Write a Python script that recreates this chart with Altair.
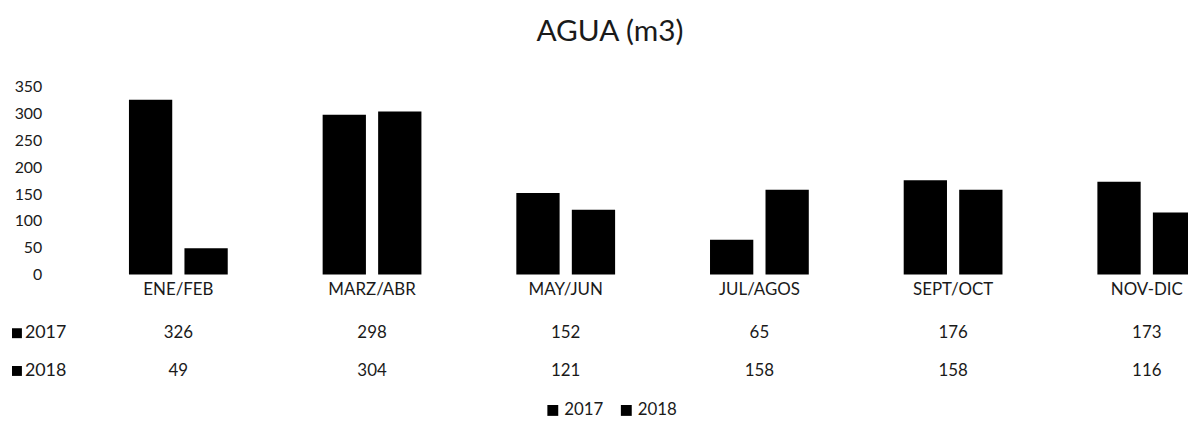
import altair as alt
import pandas as pd

# ---- data ----
periods = ["ENE/FEB", "MARZ/ABR", "MAY/JUN", "JUL/AGOS", "SEPT/OCT", "NOV-DIC"]
years = ["2017", "2018"]
values_2017 = [326, 298, 152, 65, 176, 173]
values_2018 = [49, 304, 121, 158, 158, 116]
y_ticks = [0, 50, 100, 150, 200, 250, 300, 350]
title_text = "AGUA (m3)"

rows = []
for p, a, b in zip(periods, values_2017, values_2018):
    rows.append({"periodo": p, "anio": years[0], "valor": a})
    rows.append({"periodo": p, "anio": years[1], "valor": b})
df = pd.DataFrame(rows)
df_years = pd.DataFrame({"anio": years})

FONT = "Lato"
TXT = "#1a1a1a"

x_scale = alt.Scale(domain=periods, range=[0, 1170], paddingInner=0.49, paddingOuter=0.245)
x_enc = alt.X(
    "periodo:N", scale=x_scale, sort=periods,
    axis=alt.Axis(title=None, labelAngle=0, ticks=False, domain=False, grid=False,
                  labelFontSize=17, labelPadding=7, labelColor=TXT, labelFont=FONT),
)

base = alt.Chart(df)

bars = base.mark_bar(color="black").encode(
    x=x_enc,
    xOffset=alt.XOffset("anio:N", scale=alt.Scale(domain=years, paddingInner=0.22, paddingOuter=0)),
    y=alt.Y("valor:Q", scale=alt.Scale(domain=[0, 350], nice=False),
            axis=alt.Axis(values=y_ticks, title=None, grid=False, ticks=False, domain=False,
                          labelPadding=40, labelFontSize=16, labelColor=TXT, labelFont=FONT)),
    color=alt.Color("anio:N", scale=alt.Scale(domain=years, range=["black", "black"]),
                    legend=alt.Legend(orient="none", legendX=466, legendY=317, direction="horizontal",
                                      title=None, symbolType="square", symbolSize=120,
                                      symbolStrokeWidth=0, labelFontSize=17, labelFont=FONT,
                                      labelColor=TXT, columnPadding=14, labelOffset=3)),
)

table_layers = []
header_layers = []
for yr, ypos in zip(years, [248, 286]):
    table_layers.append(
        base.transform_filter(alt.datum.anio == yr).mark_text(
            font=FONT, fontSize=17, color=TXT, baseline="middle", align="center"
        ).encode(x=x_enc, y=alt.value(ypos), text="valor:Q")
    )
    header_layers.append(
        alt.Chart(df_years).transform_filter(alt.datum.anio == yr)
        .mark_square(color="black", size=100, opacity=1)
        .encode(x=alt.value(-65), y=alt.value(ypos))
    )
    header_layers.append(
        alt.Chart(df_years).transform_filter(alt.datum.anio == yr)
        .mark_text(font=FONT, fontSize=18, color=TXT, baseline="middle", align="left")
        .encode(x=alt.value(-57), y=alt.value(ypos), text="anio:N")
    )

chart = alt.layer(bars, *table_layers, *header_layers).properties(
    width=1114,
    height=189,
    title=alt.TitleParams(title_text, fontSize=30, font=FONT, color=TXT, fontWeight="normal",
                          anchor="middle", dx=-25, offset=32),
    autosize=alt.AutoSizeParams(type="none"),
    padding={"left": 74, "top": 78, "right": 0, "bottom": 150},
).configure(background="white", view=alt.ViewConfig(stroke=None))

chart.save("out.html", embed_options={"renderer": "svg", "actions": False})
